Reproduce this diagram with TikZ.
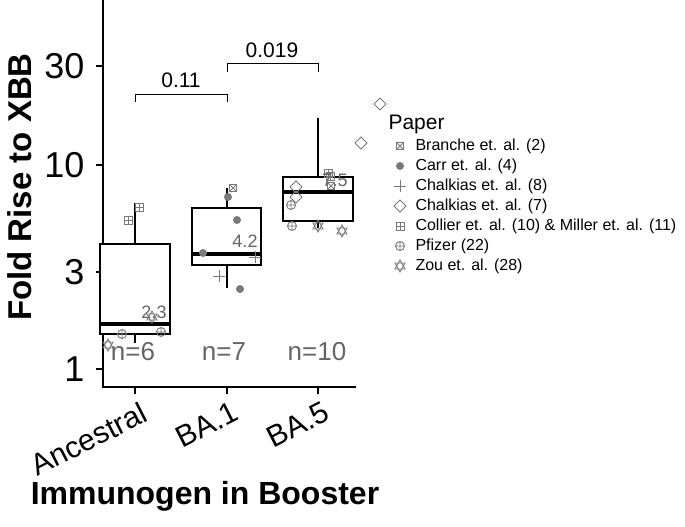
\documentclass[tikz,border=0pt]{standalone}
\usepackage{fontspec}
\setmainfont{Liberation Sans}
\definecolor{ptgray}{HTML}{7A7A7A}
\definecolor{txgray}{HTML}{666666}
\newcommand{\mkboxx}[2]{\draw[mk] (#1-3.5,#2-3.5) rectangle (#1+3.5,#2+3.5) (#1-3.5,#2-3.5) -- (#1+3.5,#2+3.5) (#1-3.5,#2+3.5) -- (#1+3.5,#2-3.5);}
\newcommand{\mkdot}[2]{\fill[ptgray] (#1,#2) circle (4);}
\newcommand{\mkplus}[2]{\draw[mk] (#1-6,#2) -- (#1+6,#2) (#1,#2-6) -- (#1,#2+6);}
\newcommand{\mkdiam}[2]{\draw[mk] (#1,#2-6) -- (#1+6,#2) -- (#1,#2+6) -- (#1-6,#2) -- cycle;}
\newcommand{\mkboxp}[2]{\draw[mk] (#1-4,#2-4) rectangle (#1+4,#2+4) (#1-4,#2) -- (#1+4,#2) (#1,#2-4) -- (#1,#2+4);}
\newcommand{\mkoplus}[2]{\draw[mk] (#1,#2) circle (4.5) (#1-4.5,#2) -- (#1+4.5,#2) (#1,#2-4.5) -- (#1,#2+4.5);}
\newcommand{\mkstar}[2]{\draw[mk] (#1-5,#2-3) -- (#1+5,#2-3) -- (#1,#2+6) -- cycle (#1-5,#2+3) -- (#1+5,#2+3) -- (#1,#2-6) -- cycle;}
\begin{document}
\begin{tikzpicture}[x=1pt,y=-1pt,
  mk/.style={ptgray,line width=0.9pt},
  boxplot/.style={draw,line width=1.6pt,fill=white},
  ntext/.style={txgray,font=\fontsize{26}{26}\selectfont},
  ticklab/.style={anchor=east,font=\fontsize{36}{36}\selectfont},
  xlab/.style={anchor=north east,rotate=27,font=\fontsize{30}{30}\selectfont},
  legtext/.style={anchor=west,font=\fontsize{16}{16}\selectfont}]
\useasboundingbox (0,0) rectangle (685,527);
% axes
\draw[line width=1.8pt] (103,0) -- (103,387) -- (356,387);
\foreach \y/\lab in {369/1,272/3,165/10,66/30}{
  \draw[line width=1.4pt] (96,\y) -- (103,\y);
  \node[ticklab] (y\lab) at (88,\y) {\lab};}
\foreach \x/\lab/\nm in {135/Ancestral/anc,227/BA.1/ba1,318/BA.5/ba5}{
  \draw[line width=1.4pt] (\x,387) -- (\x,394);
  \node[xlab] (x\nm) at (\x+6,396) {\lab};}
\node[rotate=90,font=\bfseries\fontsize{33}{33}\selectfont] (ytitle) at (20,187) {Fold Rise to XBB};
\node[font=\bfseries\fontsize{32}{32}\selectfont] (xtitle) at (205,496) {Immunogen in Booster};
% boxes
\draw[line width=1.6pt] (135,203) -- (135,343) (227,188) -- (227,288) (318,118) -- (318,228);
\draw[boxplot] (100,244) rectangle (170,334);
\draw[line width=3.2pt] (100,324) -- (170,324);
\draw[boxplot] (192,208) rectangle (261,265);
\draw[line width=3.2pt] (192,254) -- (261,254);
\draw[boxplot] (283,177) rectangle (353,221);
\draw[line width=3.2pt] (283,192) -- (353,192);
% points
\mkboxp{139}{207} \mkboxp{128}{220} \mkstar{152}{317}
\mkoplus{122}{334} \mkoplus{161}{332} \mkstar{108}{345}
\mkboxx{233}{188} \mkdot{228}{197} \mkdot{237}{220} \mkdot{203}{253}
\mkdot{240}{289} \mkplus{255}{257} \mkplus{219}{276}
\mkboxp{328}{173} \mkboxx{331}{186} \mkdiam{296}{187} \mkdiam{296}{197}
\mkdiam{380}{104} \mkdiam{361}{143} \mkboxp{330}{176}
\mkoplus{291}{205} \mkoplus{292}{226} \mkstar{318}{226} \mkstar{342}{231}
% value labels
\node[ntext,font=\fontsize{18}{18}\selectfont] (m1) at (154,312) {2.3};
\node[ntext,font=\fontsize{18}{18}\selectfont] (m2) at (245,241) {4.2};
\node[ntext,font=\fontsize{18}{18}\selectfont] (m3) at (335,180) {7.5};
\node[ntext] (n1) at (133,352) {n=6};
\node[ntext] (n2) at (224,352) {n=7};
\node[ntext] (n3) at (317,352) {n=10};
% brackets
\draw[line width=1pt] (135,102) -- (135,94) -- (227,94) -- (227,102);
\draw[line width=1pt] (227,72) -- (227,64) -- (318,64) -- (318,72);
\node[font=\fontsize{21}{21}\selectfont] (p1) at (181,80) {0.11};
\node[font=\fontsize{21}{21}\selectfont] (p2) at (272,50) {0.019};
% legend
\node[anchor=west,font=\fontsize{21}{21}\selectfont] (legtitle) at (385,124) {Paper};
\foreach \i/\lab in {0/Branche et. al. (2),1/Carr et. al. (4),2/Chalkias et. al. (8),3/Chalkias et. al. (7),4/Collier et. al. (10) \& Miller et. al. (11),5/Pfizer (22),6/Zou et. al. (28)}{
  \node[legtext] (leg\i) at (412,146+20*\i) {\lab};}
\mkboxx{400}{146} \mkdot{400}{166} \mkplus{400}{186} \mkdiam{400}{206}
\mkboxp{400}{226} \mkoplus{400}{246} \mkstar{400}{266}
\end{tikzpicture}
\end{document}
